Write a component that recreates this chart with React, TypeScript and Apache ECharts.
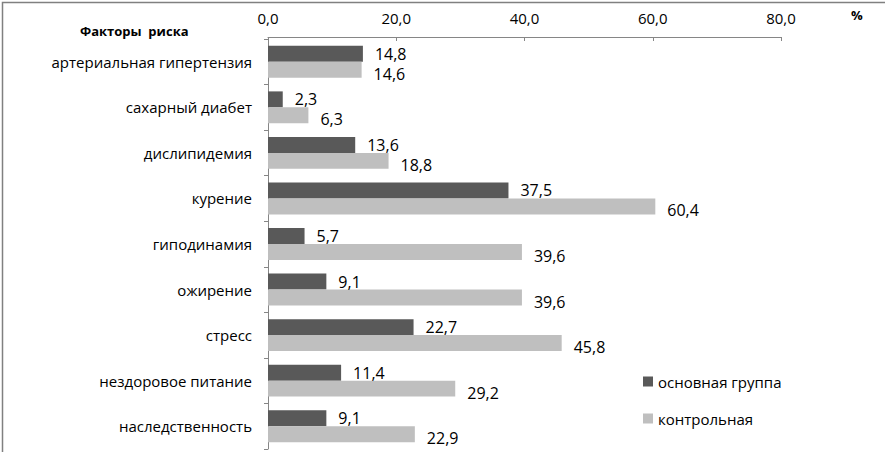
import React, { useEffect, useRef } from "react";
import * as echarts from "echarts";

const categories = [
  "артериальная гипертензия",
  "сахарный диабет",
  "дислипидемия",
  "курение",
  "гиподинамия",
  "ожирение",
  "стресс",
  "нездоровое питание",
  "наследственность",
];
const mainGroup = [14.8, 2.3, 13.6, 37.5, 5.7, 9.1, 22.7, 11.4, 9.1];
const controlGroup = [14.6, 6.3, 18.8, 60.4, 39.6, 39.6, 45.8, 29.2, 22.9];
const seriesNames = ["основная группа", "контрольная"];
const axisTitle = "Факторы  риска";
const unitLabel = "%";

const FONT = "'Open Sans', 'Noto Sans', sans-serif";
const fmt = (v: number) => v.toFixed(1).replace(".", ",");

export default function App() {
  const ref = useRef<HTMLDivElement>(null);
  useEffect(() => {
    document.body.style.margin = "0";
    const chart = echarts.init(ref.current!, null, { renderer: "svg" });
    chart.setOption({
      animation: false,
      backgroundColor: "#ffffff",
      textStyle: { fontFamily: FONT },
      grid: { left: 268, right: 104, top: 39, bottom: 3, containLabel: false },
      legend: {
        orient: "vertical",
        left: 638,
        top: 369,
        itemWidth: 10,
        itemHeight: 10,
        itemGap: 22,
        icon: "rect",
        textStyle: { fontFamily: FONT, fontSize: 15, color: "#000" },
        data: seriesNames,
      },
      xAxis: {
        type: "value",
        position: "top",
        offset: 2,
        min: 0,
        max: 80,
        interval: 20,
        axisLine: { show: true, lineStyle: { color: "#868686" } },
        axisTick: { show: true, inside: true, length: 4, lineStyle: { color: "#868686" } },
        splitLine: { show: false },
        axisLabel: {
          fontFamily: FONT,
          fontSize: 15,
          color: "#000",
          margin: 12,
          formatter: (v: number) => fmt(v),
        },
      },
      yAxis: {
        type: "category",
        inverse: true,
        data: categories,
        axisLine: { show: true, lineStyle: { color: "#868686" } },
        axisTick: { show: true, length: 4, lineStyle: { color: "#868686" } },
        axisLabel: {
          fontFamily: FONT,
          fontSize: 15,
          color: "#000",
          margin: 16,
          padding: [4, 0, 0, 0],
        },
      },
      series: [
        {
          name: seriesNames[0],
          type: "bar",
          data: mainGroup,
          barGap: "0%",
          barCategoryGap: "30%",
          itemStyle: { color: "#595959" },
          label: {
            show: true,
            position: "right",
            distance: 12,
            offset: [0, 0],
            fontFamily: FONT,
            fontSize: 16,
            color: "#000",
            formatter: (p: any) => fmt(p.value),
          },
        },
        {
          name: seriesNames[1],
          type: "bar",
          data: controlGroup,
          barGap: "0%",
          barCategoryGap: "30%",
          itemStyle: { color: "#bfbfbf" },
          label: {
            show: true,
            position: "right",
            distance: 12,
            offset: [0, 4],
            fontFamily: FONT,
            fontSize: 16,
            color: "#000",
            formatter: (p: any) => fmt(p.value),
          },
        },
      ],
      graphic: [
        {
          type: "rect",
          left: 0,
          top: 0,
          shape: { x: 0.75, y: 0.75, width: 883.5, height: 450.5 },
          style: { fill: "none", stroke: "#808080", lineWidth: 1.5 },
          silent: true,
        },
        {
          type: "text",
          left: 80,
          top: 24,
          style: {
            text: axisTitle,
            fontFamily: FONT,
            fontSize: 13,
            fontWeight: "bold",
            fill: "#000",
          },
        },
        {
          type: "text",
          left: 851,
          top: 8,
          style: {
            text: unitLabel,
            fontFamily: FONT,
            fontSize: 13,
            fontWeight: "bold",
            fill: "#000",
          },
        },
      ],
    });
    return () => chart.dispose();
  }, []);
  return <div ref={ref} style={{ width: 885, height: 452 }} />;
}
